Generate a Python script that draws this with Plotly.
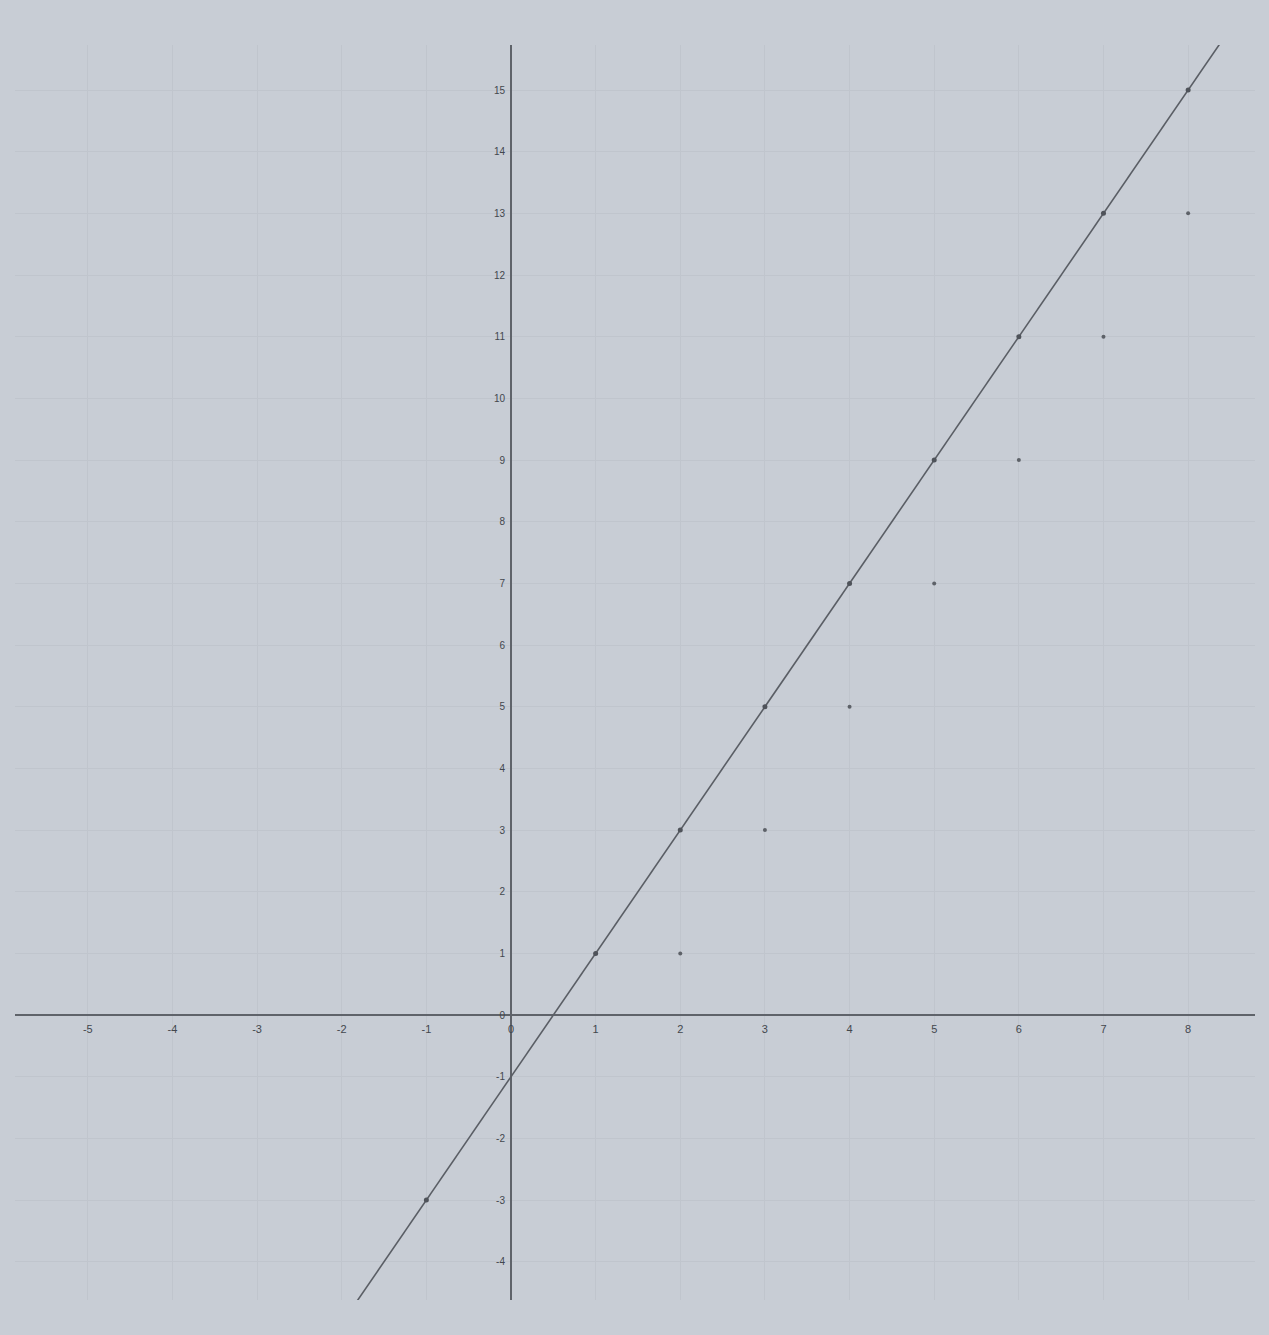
import plotly.graph_objects as go

# data
line_x = [-2, 9]
line_y = [-5, 17]
on_x = [-1, 1, 2, 3, 4, 5, 6, 7, 8]
on_y = [-3, 1, 3, 5, 7, 9, 11, 13, 15]
off_x = [2, 3, 4, 5, 6, 7, 8]
off_y = [1, 3, 5, 7, 9, 11, 13]
x_ticks = [-5, -4, -3, -2, -1, 0, 1, 2, 3, 4, 5, 6, 7, 8]
y_ticks = [-4, -3, -2, -1, 0, 1, 2, 3, 4, 5, 6, 7, 8, 9, 10, 11, 12, 13, 14, 15]

x_range = [-5.86, 8.79]
y_range = [-4.62, 15.73]

bg = "#c8cdd5"
ink = "#4f535a"
grid = "#c0c5cd"
label = "#43474d"

fig = go.Figure()
fig.add_trace(go.Scatter(x=line_x, y=line_y, mode="lines",
                         line=dict(color="#5a5e65", width=1.6), showlegend=False,
                         hoverinfo="skip"))
fig.add_trace(go.Scatter(x=on_x, y=on_y, mode="markers",
                         marker=dict(color=ink, size=5), showlegend=False))
fig.add_trace(go.Scatter(x=off_x, y=off_y, mode="markers",
                         marker=dict(color="#5d6168", size=4), showlegend=False))

xpos = (0 - y_range[0]) / (y_range[1] - y_range[0])
ypos = (0 - x_range[0]) / (x_range[1] - x_range[0])

fig.update_layout(
    width=1269, height=1335,
    margin=dict(l=15, r=14, t=45, b=35),
    paper_bgcolor=bg, plot_bgcolor=bg,
    font=dict(family="Liberation Sans, Arial, sans-serif", size=11, color=label),
    xaxis=dict(range=x_range, tickvals=x_ticks, ticktext=[str(v) for v in x_ticks],
               anchor="free", position=xpos, showgrid=True, gridcolor=grid, gridwidth=1,
               zeroline=True, zerolinecolor="#5f636a", zerolinewidth=1.5,
               showline=False, ticks="", ticklabelstandoff=6,
               tickfont=dict(color=label, size=11)),
    yaxis=dict(range=y_range, tickvals=y_ticks, ticktext=[str(v) for v in y_ticks],
               anchor="free", position=ypos, showgrid=True, gridcolor=grid, gridwidth=1,
               zeroline=True, zerolinecolor="#5f636a", zerolinewidth=1.5,
               showline=False, ticks="", ticklabelstandoff=6,
               tickfont=dict(color=label, size=10)),
)

fig.write_html("out.html", config={"displayModeBar": False},
               post_script="document.body.style.margin='0';document.body.style.background='%s';" % bg)
